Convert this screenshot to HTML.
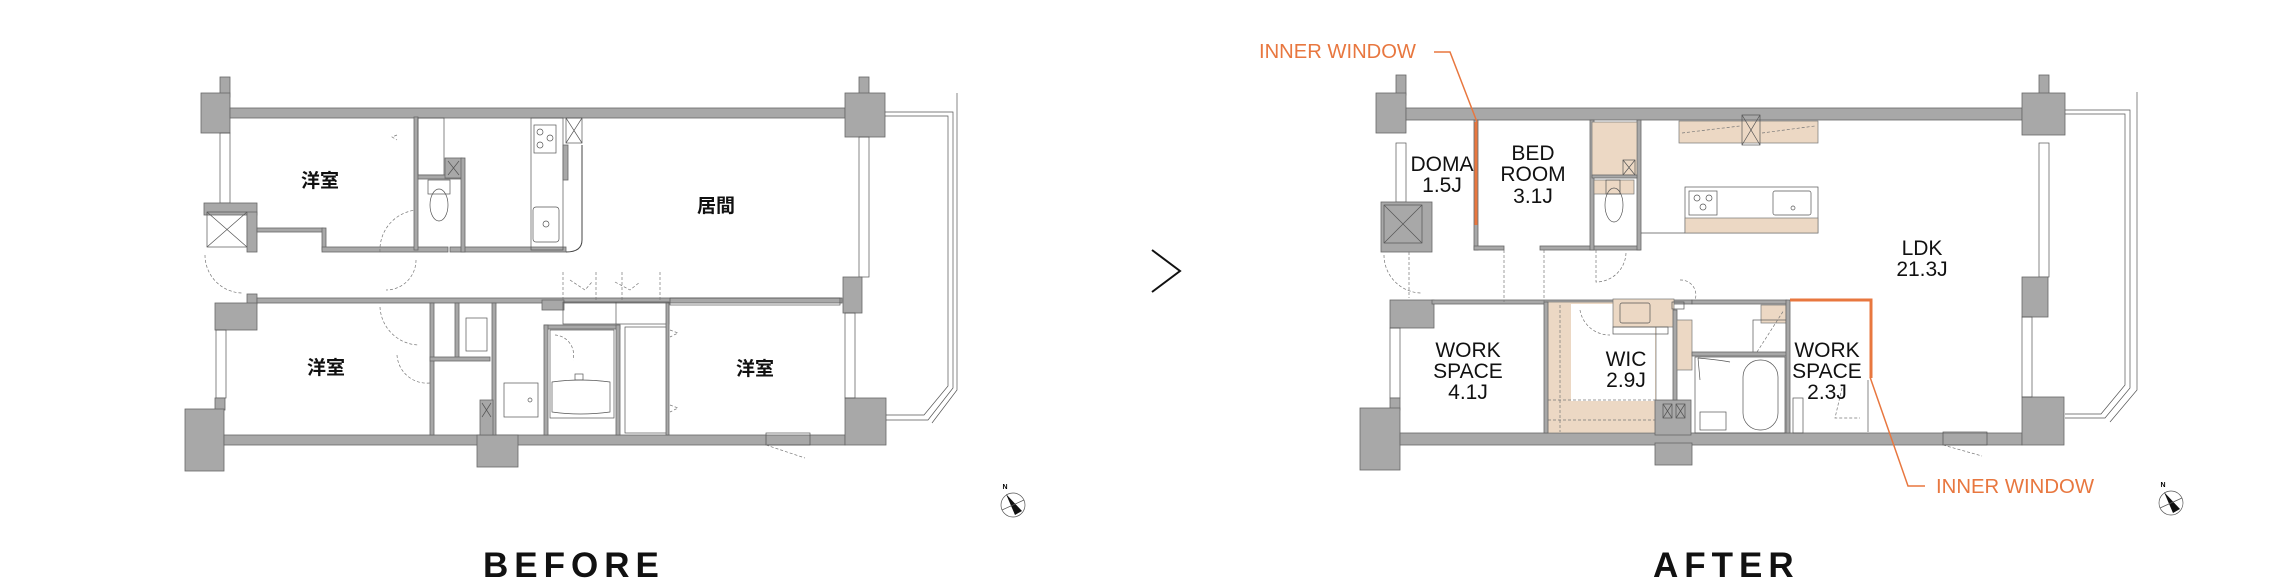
<!DOCTYPE html>
<html><head><meta charset="utf-8"><style>
html,body{margin:0;padding:0;background:#fff;width:2292px;height:583px;overflow:hidden}
svg{display:block}
.w{fill:#a8a8a8;stroke:#666;stroke-width:.8}
.l{fill:none;stroke:#444;stroke-width:1}
.t{fill:none;stroke:#555;stroke-width:.7}
.d{fill:none;stroke:#777;stroke-width:.7;stroke-dasharray:3 2}
.b{fill:#ecd8c4;stroke:#777;stroke-width:.7}
.jp{font-family:"Liberation Sans","Noto Sans CJK JP",sans-serif;font-size:19px;font-weight:bold;fill:#111;text-anchor:middle}
.en{font-family:"Liberation Sans Narrow","Liberation Sans",sans-serif;font-size:21px;fill:#111;text-anchor:middle}
.or{font-family:"Liberation Sans Narrow","Liberation Sans",sans-serif;font-size:20px;fill:#e8773f}
.big{font-family:"Liberation Sans",sans-serif;font-size:35px;font-weight:bold;fill:#111;letter-spacing:6px}
</style></head><body>
<svg width="2292" height="583" viewBox="0 0 2292 583">
<!-- ================= BEFORE ================= -->
<g>
<rect class="w" x="220" y="77" width="10" height="20"/>
<rect class="w" x="201" y="93" width="29" height="40"/>
<rect class="w" x="230" y="108" width="615" height="10"/>
<rect class="w" x="859" y="77" width="10" height="20"/>
<rect class="w" x="845" y="93" width="40" height="44"/>
<rect class="t" x="220" y="133" width="10" height="70"/>
<rect class="w" x="204" y="203" width="53" height="12"/>
<rect class="t" x="207" y="212" width="40" height="35"/>
<path class="t" d="M207 212L247 247M247 212L207 247"/>
<rect class="w" x="247" y="212" width="10" height="40"/>
<rect class="w" x="257" y="228" width="66" height="4"/>
<rect class="w" x="322" y="228" width="4" height="22"/>
<rect class="w" x="322" y="247" width="126" height="5"/>
<rect class="w" x="450" y="247" width="116" height="5"/>
<path class="l" d="M566 252Q582 252 582 240V145"/>
<path class="d" d="M205 255A38 38 0 0 0 243 293M380 252A40 40 0 0 1 417 210M416 260A30 30 0 0 1 386 290"/>
<rect class="w" x="247" y="294" width="10" height="10"/>
<rect class="w" x="257" y="298" width="585" height="5"/>
<rect class="w" x="215" y="303" width="42" height="27"/>
<rect class="t" x="216" y="330" width="10" height="68"/>
<rect class="w" x="215" y="398" width="10" height="12"/>
<rect class="w" x="185" y="409" width="39" height="62"/>
<rect class="w" x="224" y="435" width="621" height="10"/>
<rect class="w" x="477" y="435" width="41" height="32"/>
<rect class="w" x="845" y="398" width="41" height="47"/>
<rect class="t" x="766" y="433" width="44" height="12"/>
<path class="d" d="M766 445L805 458"/>
<rect class="t" x="859" y="137" width="10" height="140"/>
<rect class="w" x="843" y="277" width="19" height="36"/>
<rect class="t" x="845" y="313" width="10" height="85"/>
<path class="t" d="M885 112H953V388L928 420H886M885 116H948V386L924 415H886M957 93V390L932 423"/>
<rect class="w" x="414" y="117" width="4" height="133"/>
<rect class="t" x="418" y="118" width="26" height="57"/>
<rect class="w" x="418" y="175" width="44" height="4"/>
<rect class="w" x="445" y="158" width="17" height="20"/>
<path class="t" d="M448 161L459 175M459 161L448 175"/>
<rect class="w" x="461" y="158" width="4" height="94"/>
<rect class="t" x="428" y="180" width="22" height="14"/>
<ellipse class="t" cx="439" cy="205" rx="9" ry="16"/>
<rect class="t" x="531" y="118" width="32" height="132"/>
<rect class="t" x="534" y="125" width="22" height="28"/>
<circle class="t" cx="540" cy="132" r="3"/><circle class="t" cx="550" cy="138" r="3"/><circle class="t" cx="540" cy="145" r="3"/>
<rect class="t" x="533" y="207" width="26" height="35" rx="3"/>
<circle class="t" cx="546" cy="224" r="3"/>
<rect class="w" x="563" y="145" width="5" height="35"/>
<rect class="t" x="566" y="118" width="16" height="25"/>
<path class="t" d="M566 118L582 143M582 118L566 143"/>
<path class="d" d="M397 135L392 137L397 140M563 272V300M596 272V300M622 272V300M660 272V300M570 280L585 290L592 282M615 282L630 290L640 282"/>
<rect class="w" x="430" y="303" width="4" height="132"/>
<rect class="w" x="455" y="303" width="4" height="57"/>
<rect class="w" x="430" y="357" width="60" height="4"/>
<rect class="t" x="466" y="318" width="21" height="33"/>
<rect class="w" x="492" y="303" width="4" height="132"/>
<rect class="t" x="504" y="383" width="34" height="34"/>
<circle class="t" cx="530" cy="400" r="2"/>
<rect class="w" x="480" y="400" width="13" height="35"/>
<path class="t" d="M482 403L491 417M491 403L482 417"/>
<rect class="w" x="542" y="300" width="22" height="10"/>
<rect class="t" x="563" y="302" width="106" height="22"/>
<line class="t" x1="616" y1="302" x2="616" y2="324"/>
<rect class="w" x="544" y="325" width="76" height="4"/>
<rect class="w" x="544" y="325" width="4" height="110"/>
<rect class="w" x="616" y="325" width="4" height="110"/>
<rect class="t" x="550" y="330" width="64" height="88"/>
<path class="t" d="M552 382Q580 378 610 382V412Q580 416 552 412Z"/>
<rect class="t" x="575" y="374" width="8" height="6"/>
<rect class="t" x="625" y="327" width="43" height="106"/>
<rect class="w" x="666" y="303" width="3" height="132"/>
<rect class="t" x="670" y="298" width="170" height="7"/>
<path class="d" d="M670 330L678 333L670 337M670 405L678 408L670 412M380 307A40 40 0 0 0 418 345M397 355A30 30 0 0 0 430 383M555 335A20 20 0 0 1 573 360"/>
<text class="jp" x="320" y="187">洋室</text>
<text class="jp" x="716" y="212">居間</text>
<text class="jp" x="326" y="374">洋室</text>
<text class="jp" x="755" y="375">洋室</text>
<circle class="t" cx="1013" cy="505" r="12"/>
<path d="M1006 494L1022 511L1015 515Z" fill="#111"/>
<path class="t" d="M1002 510L1024 500"/>
<text x="1005" y="489" font-family="Liberation Sans,sans-serif" font-size="7" font-weight="bold" text-anchor="middle">N</text>
<text class="big" x="483" y="577">BEFORE</text>
</g>
<path d="M1152 250L1180 271L1152 292" fill="none" stroke="#111" stroke-width="2"/>
<!-- ================= AFTER ================= -->
<g>
<rect class="w" x="1396" y="75" width="10" height="20"/>
<rect class="w" x="1376" y="93" width="30" height="40"/>
<rect class="w" x="1406" y="108" width="616" height="12"/>
<rect class="w" x="2039" y="75" width="10" height="20"/>
<rect class="w" x="2022" y="93" width="43" height="42"/>
<rect class="t" x="1396" y="143" width="10" height="59"/>
<rect class="w" x="1381" y="202" width="51" height="50"/>
<rect class="t" x="1384" y="205" width="38" height="38"/>
<path class="t" d="M1384 205L1422 243M1422 205L1384 243"/>
<path class="d" d="M1384 255A38 38 0 0 0 1422 293M1409 252V298"/>
<rect class="w" x="1390" y="300" width="44" height="28"/>
<rect class="t" x="1390" y="328" width="10" height="70"/>
<rect class="w" x="1390" y="398" width="10" height="12"/>
<rect class="w" x="1360" y="408" width="40" height="62"/>
<rect class="w" x="1400" y="433" width="622" height="12"/>
<rect class="w" x="1655" y="443" width="37" height="22"/>
<rect class="w" x="2022" y="397" width="42" height="48"/>
<rect class="t" x="1943" y="432" width="44" height="13"/>
<path class="d" d="M1943 445L1982 456"/>
<rect class="t" x="2039" y="143" width="10" height="134"/>
<rect class="w" x="2022" y="277" width="26" height="40"/>
<rect class="t" x="2022" y="317" width="10" height="80"/>
<path class="t" d="M2065 110H2130V388L2105 418H2065M2065 114H2125V385L2101 414H2065M2137 92V390L2110 422"/>
<rect class="w" x="1432" y="300" width="260" height="4"/>
<rect class="w" x="1474" y="120" width="4" height="130"/>
<rect class="w" x="1474" y="246" width="30" height="4"/>
<rect class="w" x="1540" y="246" width="100" height="4"/>
<rect class="w" x="1590" y="120" width="4" height="130"/>
<rect class="w" x="1637" y="120" width="4" height="130"/>
<rect class="b" x="1592" y="122" width="45" height="55"/>
<rect class="t" x="1623" y="160" width="12" height="15"/>
<path class="t" d="M1623 160L1635 175M1635 160L1623 175"/>
<rect class="w" x="1592" y="175" width="45" height="3"/>
<rect class="b" x="1594" y="180" width="40" height="14"/>
<ellipse class="t" cx="1614" cy="205" rx="9" ry="17"/>
<rect class="t" x="1606" y="180" width="14" height="14"/>
<path class="d" d="M1596 250V282A30 30 0 0 0 1626 252M1504 250V302M1544 250V302M1680 280A15 15 0 0 1 1695 300"/>
<line x1="1476" y1="122" x2="1476" y2="225" stroke="#e8773f" stroke-width="3"/>
<rect class="b" x="1679" y="121" width="139" height="22"/>
<rect class="t" x="1742" y="115" width="18" height="30"/>
<path class="t" d="M1742 115L1760 145M1760 115L1742 145"/>
<path class="d" d="M1682 133L1740 126M1762 133L1815 126"/>
<line class="t" x1="1641" y1="233" x2="1685" y2="233"/>
<rect class="t" x="1685" y="187" width="133" height="46"/>
<rect class="b" x="1685" y="218" width="133" height="15"/>
<rect class="t" x="1689" y="191" width="28" height="24"/>
<circle class="t" cx="1697" cy="198" r="3"/><circle class="t" cx="1709" cy="198" r="3"/><circle class="t" cx="1703" cy="207" r="3"/>
<rect class="t" x="1773" y="191" width="38" height="24" rx="2"/>
<circle class="t" cx="1793" cy="208" r="2"/>
<rect class="b" x="1546" y="302" width="110" height="131"/>
<rect x="1571" y="304" width="84" height="97" fill="#fff"/>
<path class="d" d="M1560 305V432M1548 400H1655M1548 420H1655"/>
<rect class="w" x="1544" y="302" width="4" height="131"/>
<rect class="b" x="1613" y="299" width="61" height="28"/>
<rect class="t" x="1620" y="303" width="30" height="20" rx="2"/>
<rect class="t" x="1613" y="327" width="55" height="7"/>
<path class="d" d="M1580 310A30 30 0 0 0 1610 335"/>
<rect class="w" x="1655" y="400" width="36" height="35"/>
<rect class="t" x="1663" y="404" width="9" height="14"/><rect class="t" x="1676" y="404" width="9" height="14"/>
<path class="t" d="M1663 404L1672 418M1672 404L1663 418M1676 404L1685 418M1685 404L1676 418"/>
<rect class="t" x="1672" y="302" width="12" height="7"/>
<rect class="w" x="1673" y="310" width="4" height="90"/>
<rect class="b" x="1677" y="320" width="15" height="50"/>
<rect class="w" x="1692" y="300" width="95" height="4"/>
<rect class="b" x="1761" y="305" width="25" height="18"/>
<rect class="t" x="1753" y="320" width="33" height="35"/>
<path class="d" d="M1757 352L1784 310"/>
<rect class="w" x="1692" y="352" width="95" height="4"/>
<rect class="t" x="1695" y="357" width="90" height="76"/>
<rect class="t" x="1743" y="360" width="35" height="70" rx="17"/>
<rect class="t" x="1700" y="412" width="26" height="18"/>
<path class="t" d="M1698 358Q1720 360 1730 362M1698 358L1700 380"/>
<rect class="w" x="1786" y="300" width="4" height="133"/>
<rect class="t" x="1793" y="398" width="10" height="35"/>
<path class="d" d="M1842 388L1835 418H1860"/>
<line class="t" x1="1868" y1="380" x2="1868" y2="432"/>
<path d="M1790 300H1871V378" fill="none" stroke="#e8773f" stroke-width="3"/>
<text class="or" x="1259" y="58" textLength="157" lengthAdjust="spacingAndGlyphs">INNER WINDOW</text>
<path d="M1434 52H1450L1477 122" fill="none" stroke="#e8773f" stroke-width="1.5"/>
<text class="or" x="1936" y="493" textLength="158" lengthAdjust="spacingAndGlyphs">INNER WINDOW</text>
<path d="M1925 486H1908L1870 377" fill="none" stroke="#e8773f" stroke-width="1.5"/>
<text class="en" x="1442" y="171">DOMA</text><text class="en" x="1442" y="192">1.5J</text>
<text class="en" x="1533" y="160">BED</text><text class="en" x="1533" y="181">ROOM</text><text class="en" x="1533" y="203">3.1J</text>
<text class="en" x="1922" y="255">LDK</text><text class="en" x="1922" y="276">21.3J</text>
<text class="en" x="1468" y="357">WORK</text><text class="en" x="1468" y="378">SPACE</text><text class="en" x="1468" y="399">4.1J</text>
<text class="en" x="1626" y="366">WIC</text><text class="en" x="1626" y="387">2.9J</text>
<text class="en" x="1827" y="357">WORK</text><text class="en" x="1827" y="378">SPACE</text><text class="en" x="1827" y="399">2.3J</text>
<circle class="t" cx="2171" cy="503" r="12"/>
<path d="M2164 492L2180 509L2173 513Z" fill="#111"/>
<path class="t" d="M2160 508L2182 498"/>
<text x="2163" y="487" font-family="Liberation Sans,sans-serif" font-size="7" font-weight="bold" text-anchor="middle">N</text>
<text class="big" x="1653" y="577">AFTER</text>
</g>
</svg>
</body></html>
